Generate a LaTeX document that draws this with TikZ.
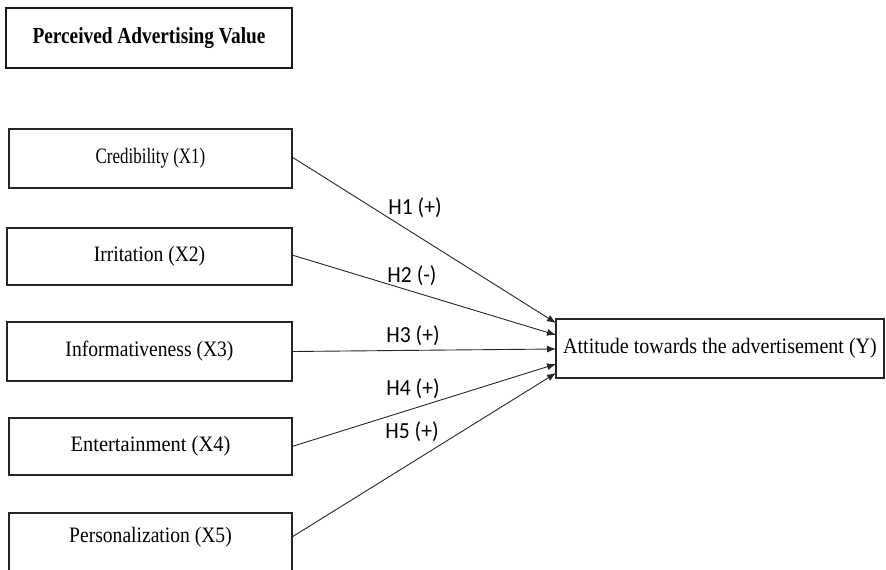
\documentclass[tikz,border=0pt]{standalone}
\usepackage{fontspec}
\setmainfont{Liberation Serif}
\newfontfamily\lblfont{Carlito}
\usetikzlibrary{arrows.meta}
\newcommand{\sqz}[2]{\scalebox{#1}[1]{#2}}
\begin{document}
\begin{tikzpicture}[x=1pt,y=-1pt,
  box/.style={draw=black!85,line width=1.1pt,rectangle,inner sep=0pt,outer sep=0pt,anchor=north west,
    font=\fontsize{22}{26}\selectfont},
  openbox/.style={box,draw=none},
  boxline/.style={draw=black!85,line width=1.1pt},
  titlebox/.style={draw=black!90,line width=2.3pt,rectangle,inner sep=0pt,outer sep=0pt,anchor=north west,
    font=\fontsize{23}{27}\selectfont\bfseries},
  hyp/.style={font=\lblfont\fontsize{23}{27}\selectfont,inner sep=0pt},
  link/.style={draw=black!85,line width=0.9pt,-{Latex[length=9pt,width=7pt]}}]
\useasboundingbox (0,0) rectangle (886,570);
\fill[white] (0,0) rectangle (886,570);
\node[titlebox,minimum width=286pt,minimum height=60pt] (title) at (6,8) {\sqz{0.84}{Perceived Advertising Value}};
\node[box,minimum width=283pt,minimum height=59pt] (cred) at (9,129) {\sqz{0.77}{Credibility (X1)}};
\node[box,minimum width=285pt,minimum height=57pt] (irr) at (7,228) {\sqz{0.89}{Irritation (X2)}};
\node[box,minimum width=285pt,minimum height=59pt] (info) at (7,322) {\sqz{0.89}{Informativeness (X3)}};
\node[box,minimum width=283pt,minimum height=57pt] (ent) at (9,418) {\sqz{0.93}{Entertainment (X4)}};
\node[openbox,minimum width=283pt,minimum height=48pt] (pers) at (9,513) {\sqz{0.89}{Personalization (X5)}};
\draw[boxline] ([yshift=-25pt]pers.south west) -- (pers.north west) -- (pers.north east) -- ([yshift=-25pt]pers.south east);
\node[box,minimum width=328pt,minimum height=59pt] (att) at (556,319) {\sqz{0.91}{Attitude towards the advertisement (Y)}};
\node[hyp] (h1) at (415,208) {\sqz{0.94}{H1 (+)}};
\node[hyp] (h2) at (412,276) {\sqz{0.94}{H2 (-)}};
\node[hyp] (h3) at (413,336) {\sqz{0.94}{H3 (+)}};
\node[hyp] (h4) at (413,389) {\sqz{0.94}{H4 (+)}};
\node[hyp] (h5) at (412,432) {\sqz{0.94}{H5 (+)}};
\draw[link] ([yshift=1.5pt]cred.east) -- ([yshift=25.5pt]att.west);
\draw[link] ([yshift=1.5pt]irr.east) -- ([yshift=13.5pt]att.west);
\draw[link] (info.east) -- ([yshift=-0.5pt]att.west);
\draw[link] (ent.east) -- ([yshift=-15.5pt]att.west);
\draw[link] (pers.east) -- ([yshift=-24.5pt]att.west);
\end{tikzpicture}
\end{document}
